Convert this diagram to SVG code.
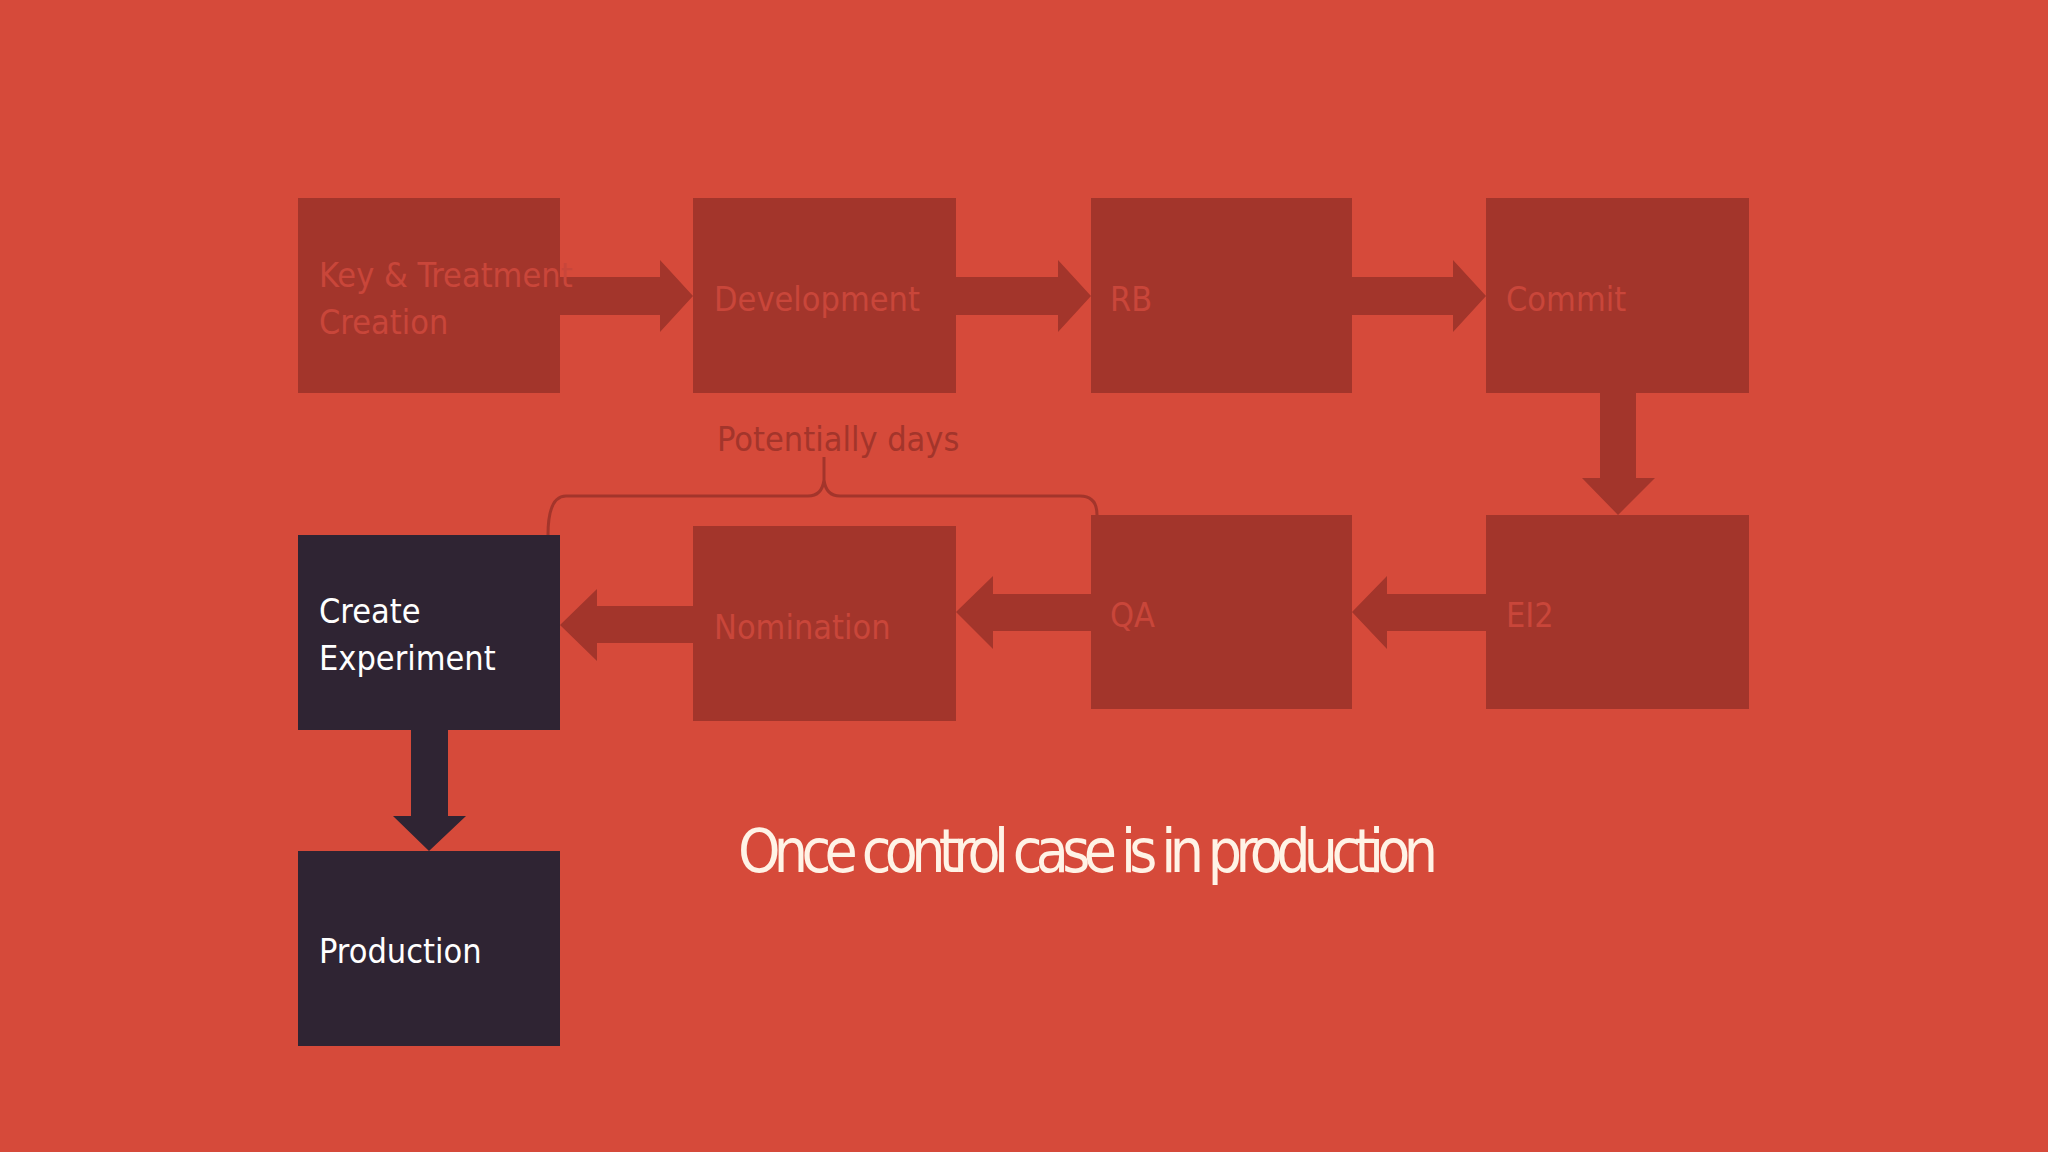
<svg xmlns="http://www.w3.org/2000/svg" width="2048" height="1152" viewBox="0 0 2048 1152">
<style>
.b{fill:#A3352B}
.d{fill:#2F2433}
.t{font-family:"DejaVu Sans Condensed","Liberation Sans",sans-serif;font-size:34px;fill:#C9463A}
.w{font-family:"DejaVu Sans Condensed","Liberation Sans",sans-serif;font-size:34px;fill:#FFFFFF}
.a{fill:#A3352B}
</style>
<rect width="2048" height="1152" fill="#D64A3A"/>
<g id="connectors">
<polygon class="a" points="560,277 660,277 660,260 693,296 660,332 660,315 560,315"/>
<polygon class="a" points="956,277 1058,277 1058,260 1091,296 1058,332 1058,315 956,315"/>
<polygon class="a" points="1352,277 1453,277 1453,260 1486,296 1453,332 1453,315 1352,315"/>
<polygon class="a" points="1600,393 1636,393 1636,478 1655,478 1618,515 1582,478 1600,478"/>
<polygon class="a" points="1486,594 1387,594 1387,576 1352,612 1387,649 1387,631 1486,631"/>
<polygon class="a" points="1091,594 993,594 993,576 956,612 993,649 993,631 1091,631"/>
<polygon class="a" points="693,606 597,606 597,589 560,625 597,661 597,643 693,643"/>
<polygon class="d" points="411,730 448,730 448,816 466,816 429,851 393,816 411,816"/>
<path d="M548,535 Q548,496 566,496 L808,496 Q822,496 824,480 L824,457 M824,457 L824,480 Q826,496 840,496 L1080,496 Q1097,496 1097,515" fill="none" stroke="#A3352B" stroke-width="3"/>
</g>
<text x="717" y="451" class="t" style="fill:#A3352B">Potentially days</text>
<g id="key"><rect class="b" x="298" y="198" width="262" height="195"/><text class="t" x="319" y="287">Key &amp; Treatment</text><text class="t" x="319" y="334">Creation</text></g>
<g id="dev"><rect class="b" x="693" y="198" width="263" height="195"/><text class="t" x="714" y="311">Development</text></g>
<g id="rb"><rect class="b" x="1091" y="198" width="261" height="195"/><text class="t" x="1110" y="311">RB</text></g>
<g id="commit"><rect class="b" x="1486" y="198" width="263" height="195"/><text class="t" x="1506" y="311">Commit</text></g>
<g id="ei2"><rect class="b" x="1486" y="515" width="263" height="194"/><text class="t" x="1506" y="627">EI2</text></g>
<g id="qa"><rect class="b" x="1091" y="515" width="261" height="194"/><text class="t" x="1110" y="627">QA</text></g>
<g id="nom"><rect class="b" x="693" y="526" width="263" height="195"/><text class="t" x="714" y="639">Nomination</text></g>
<g id="create"><rect class="d" x="298" y="535" width="262" height="195"/><text class="w" x="319" y="623">Create</text><text class="w" x="319" y="670">Experiment</text></g>
<g id="prod"><rect class="d" x="298" y="851" width="262" height="195"/><text class="w" x="319" y="963">Production</text></g>
<text x="738" y="872" font-family="DejaVu Sans Condensed,Liberation Sans,sans-serif" font-size="60" fill="#FFF3E6" textLength="700">Once control case is in production</text>
</svg>
